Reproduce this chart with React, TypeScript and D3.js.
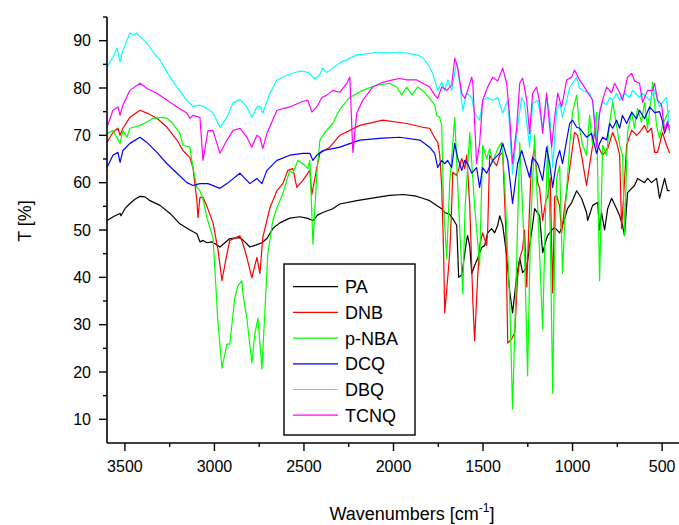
import React from "react";
import * as d3 from "d3";

type Pt = [number, number];

const seriesNames = ["PA", "DNB", "p-NBA", "DCQ", "DBQ", "TCNQ"];
const seriesColors = ["#000000", "#ff0000", "#00ff00", "#0000ff", "#00ffff", "#ff00ff"];

const xTicks = [3500, 3000, 2500, 2000, 1500, 1000, 500];
const xMinorTicks = [3250, 2750, 2250, 1750, 1250, 750];
const yTicks = [10, 20, 30, 40, 50, 60, 70, 80, 90];
const yMinorTicks = [15, 25, 35, 45, 55, 65, 75, 85, 95];

const PA: Pt[] = [[3600,52],[3555,53],[3527,53.5],[3522,53],[3500,54.5],[3472,55.6],[3444,56.5],[3416,57.1],[3388,57],[3360,56.2],[3304,55.2],[3248,53.5],[3193,51.3],[3137,50],[3098,49.2],[3081,47.5],[3064,47.8],[3042,47.3],[3014,47.5],[2969,46.4],[2914,48.2],[2858,48.4],[2830,47.5],[2802,46.4],[2769,46.8],[2735,47.3],[2707,48.2],[2674,50.3],[2635,51.5],[2579,52.5],[2523,52.8],[2484,52.5],[2450,52],[2423,53.2],[2395,53.7],[2339,54.5],[2300,55.5],[2205,56.2],[2093,56.9],[2021,57.3],[1948,57.5],[1881,57.2],[1837,56.7],[1798,56.2],[1759,55.2],[1731,54.5],[1714,53.7],[1686,53.3],[1669,52.4],[1647,51],[1636,40],[1619,40.5],[1602,45],[1591,48],[1586,48.8],[1574,46.5],[1563,40.8],[1547,42.5],[1530,44],[1508,46.3],[1491,46.7],[1474,49.4],[1452,50.3],[1435,49.4],[1418,51],[1407,53],[1390,51],[1368,44.6],[1351,37],[1335,32.5],[1312,40.3],[1295,44],[1279,41],[1256,42],[1240,46.7],[1223,51],[1212,54.5],[1184,53],[1167,45.2],[1145,48.2],[1139,48.8],[1117,50],[1100,50.5],[1072,49.4],[1044,52.4],[1028,54.5],[1005,55.8],[977,58.3],[950,56.7],[922,53.7],[916,52],[888,55.2],[860,55.8],[849,50],[838,53.7],[821,50],[804,54.5],[782,56.7],[754,54.5],[737,53],[721,51],[710,48.8],[693,57.9],[654,59.4],[637,60.9],[598,60],[581,60.9],[559,60],[531,60.9],[514,56.7],[486,60.9],[470,58.3],[458,58.3]];

const DNB: Pt[] = [[3600,68.5],[3567,70.6],[3539,71.5],[3527,70],[3511,71.5],[3472,73.8],[3416,75.3],[3377,74.7],[3321,73.6],[3265,71.7],[3209,69],[3176,66.8],[3137,65.3],[3120,63.2],[3098,56.2],[3092,52.6],[3081,56.9],[3064,56.9],[3042,55],[3008,51.5],[2981,46],[2958,39.3],[2930,45],[2914,47.8],[2858,48.8],[2841,47.1],[2819,44.2],[2791,39.9],[2763,44.2],[2746,40.8],[2730,48.4],[2690,54.7],[2651,58.3],[2618,59.8],[2590,62.6],[2562,63],[2540,59],[2506,60.5],[2467,62.6],[2456,57.5],[2428,63.2],[2411,66.2],[2356,67.5],[2300,70],[2188,72.1],[2060,73.2],[1926,72.5],[1837,71.7],[1798,71.5],[1770,69.5],[1753,68.5],[1742,66],[1731,59.4],[1720,45],[1714,32.5],[1697,40],[1686,45.2],[1675,55],[1669,62.2],[1647,61.5],[1619,65.1],[1602,63],[1591,65.8],[1574,55],[1557,35],[1547,26.6],[1530,40],[1519,46.7],[1502,49.4],[1480,46.7],[1474,50],[1463,65.8],[1446,64.7],[1424,63.6],[1407,65.8],[1390,66.4],[1373,50],[1362,26.1],[1340,27],[1323,28.3],[1307,40],[1295,44],[1279,46],[1268,50],[1256,38],[1240,55],[1229,64.3],[1212,67.2],[1195,60],[1184,58.8],[1167,52],[1150,56],[1139,57],[1125,61],[1111,36.7],[1100,57],[1089,57.3],[1072,55],[1061,49.4],[1044,55],[1016,63],[989,70.6],[972,70],[950,65.8],[922,59.4],[894,66.4],[877,70.6],[860,67.9],[832,65.8],[804,67.2],[776,70.6],[754,68.5],[737,65.8],[726,50.3],[698,67.9],[670,71.1],[643,70],[626,70.6],[598,72.1],[581,70.6],[559,71.5],[542,66.4],[525,66.4],[498,70.6],[475,67.9],[458,66.2]];

const PNBA: Pt[] = [[3600,70.4],[3567,71],[3527,68.3],[3511,71],[3488,69.6],[3472,71.5],[3416,72.1],[3377,72.8],[3343,73.6],[3288,73.8],[3265,73.6],[3232,72.5],[3193,70.4],[3176,67.9],[3137,67.5],[3120,63.2],[3098,59],[3081,58.3],[3064,56.5],[3042,52.6],[3008,48.4],[2997,41.4],[2981,30.8],[2958,20.8],[2942,23.8],[2930,25.9],[2914,25.9],[2902,30.2],[2886,35.7],[2869,38.2],[2847,39.3],[2841,36.5],[2819,31.4],[2813,29.3],[2791,21.9],[2774,28.1],[2757,31.4],[2735,20.6],[2718,32.9],[2702,45],[2674,52],[2651,54.7],[2618,57.7],[2579,62.6],[2562,62],[2534,64.7],[2506,64],[2478,63],[2467,64.7],[2450,47],[2428,62],[2411,69],[2384,70.6],[2339,72.5],[2300,75.5],[2244,78],[2172,79.5],[2093,80.6],[2021,81],[1982,80.2],[1954,78.5],[1926,80.2],[1898,78.5],[1865,80.2],[1826,79.1],[1798,77.8],[1770,76.4],[1759,74.2],[1742,73.8],[1731,72.1],[1720,55],[1703,43.9],[1686,60],[1658,73.8],[1642,60],[1613,36.5],[1600,55],[1574,70.6],[1547,55],[1519,42.5],[1502,67.9],[1480,65.1],[1463,67.2],[1446,64.3],[1418,67.2],[1396,68.5],[1379,60],[1351,35],[1335,12.2],[1318,35],[1295,68.5],[1268,45],[1251,19.2],[1235,50],[1212,70],[1195,55],[1167,29.1],[1150,55],[1139,67.9],[1125,50],[1111,15.5],[1100,45],[1089,60.9],[1072,63.6],[1056,40.8],[1040,55],[1016,67.9],[1000,74.9],[977,78.5],[961,71.5],[944,67.9],[922,65.8],[905,74.2],[888,67.9],[866,74.9],[849,39.3],[832,67.9],[810,65.8],[793,72.8],[776,77],[754,72.1],[737,67.9],[721,65.8],[710,48.8],[693,70.6],[670,74.9],[654,71.5],[637,75.7],[615,72.8],[598,77],[581,71.5],[559,78.5],[553,81.2],[531,72.1],[514,69.4],[498,72.1],[475,74.2],[458,75.3]];

const DCQ: Pt[] = [[3600,63.2],[3567,65.8],[3539,66.4],[3527,64.3],[3511,66.8],[3472,68.3],[3416,69.6],[3377,68.5],[3321,66.4],[3265,64],[3209,62],[3154,60],[3120,59.4],[3081,59.8],[3036,59.8],[2969,58.8],[2930,59.8],[2858,62],[2802,59.8],[2763,60.9],[2735,59.8],[2707,62.6],[2651,64.7],[2579,65.8],[2506,66.2],[2467,66.2],[2450,64.7],[2428,65.8],[2395,66.8],[2339,67.2],[2300,67.5],[2188,69],[2060,69.4],[1965,69.6],[1853,69],[1798,67.5],[1770,66.2],[1753,63.2],[1731,64.7],[1714,64],[1697,64.7],[1675,63.2],[1658,68.3],[1642,65.3],[1619,62.6],[1602,64.7],[1586,64],[1563,62],[1536,63.2],[1519,59],[1502,63.2],[1480,62],[1446,64.7],[1407,66.2],[1390,68.3],[1362,64.7],[1335,55.6],[1307,64],[1284,66.8],[1268,64.7],[1240,61.1],[1223,65.3],[1195,64],[1167,60.5],[1145,67.5],[1128,64],[1111,59],[1089,64.7],[1072,66.8],[1056,64],[1033,69],[1016,72.5],[1000,73.2],[977,71.7],[961,71.5],[922,69.6],[894,70.4],[866,66.2],[849,68.3],[832,69.6],[810,69],[793,72.5],[776,71.5],[754,73.2],[737,71.5],[721,74.2],[698,72.5],[670,74.9],[643,73.5],[626,75.3],[598,73.5],[570,76],[542,74.8],[514,75],[498,73],[486,70.4],[470,72.5],[458,71.7]];

const DBQ: Pt[] = [[3600,84.4],[3567,86.5],[3544,88.4],[3527,85.5],[3511,88],[3488,90.1],[3472,91.6],[3455,91.2],[3433,91.6],[3416,90.8],[3377,89.5],[3343,87.6],[3304,85.9],[3265,83.3],[3209,80.2],[3154,77.4],[3120,76.1],[3081,76.4],[3042,75.7],[3008,74.7],[2969,71.7],[2930,73.8],[2897,76.8],[2858,77.6],[2819,76],[2791,73.8],[2763,76],[2746,76.1],[2730,74.7],[2690,78.9],[2651,81.7],[2596,82.7],[2523,83.6],[2478,83.3],[2439,81.9],[2411,82.9],[2395,84.2],[2372,83.3],[2339,84.2],[2300,85.3],[2205,87],[2116,87.4],[2021,87.4],[1965,87.6],[1870,87],[1837,86.5],[1798,84.4],[1781,83.1],[1753,79.5],[1731,81.2],[1714,79.5],[1697,81.7],[1675,79.5],[1647,85.5],[1630,81],[1613,75.3],[1591,78.9],[1563,78],[1547,74.7],[1519,73.2],[1502,77.4],[1474,78],[1446,77.4],[1418,78],[1390,74.7],[1362,77.4],[1335,61.9],[1307,71.7],[1284,78],[1268,76.8],[1240,67.5],[1223,76.8],[1195,77.4],[1167,71.7],[1145,78],[1128,74.7],[1111,63.2],[1089,75.3],[1072,76.8],[1056,73.8],[1033,77.4],[1016,80.2],[1000,81],[977,82.3],[961,80],[944,79.5],[905,78.9],[888,77.4],[866,69],[849,75.3],[832,77],[810,76.5],[793,78],[776,77.4],[754,78.9],[737,77.4],[710,78.9],[682,78],[665,79.5],[626,78],[609,78.9],[570,77.4],[542,79.5],[514,76],[498,77],[475,78],[458,70.4]];

const TCNQ: Pt[] = [[3600,71.7],[3567,75.3],[3539,76],[3527,74.2],[3511,76.4],[3472,79.5],[3416,81],[3377,79.9],[3321,78.9],[3265,77.4],[3209,76],[3154,74.7],[3137,73.6],[3120,74.2],[3081,73.8],[3064,64.7],[3036,71],[3008,71],[2969,66.2],[2930,69],[2897,71],[2858,71.5],[2819,69.6],[2791,67.5],[2763,70],[2746,69.6],[2730,67.2],[2707,70.4],[2651,75.3],[2579,76],[2506,77.2],[2478,77.4],[2456,74.9],[2428,76],[2400,78],[2372,78.5],[2339,79.5],[2300,79.1],[2261,81],[2244,82.3],[2227,66.4],[2205,74.7],[2172,77.4],[2116,80.2],[2060,81.2],[2004,81.7],[1965,82],[1926,81.7],[1870,81.7],[1837,81],[1798,80.2],[1770,78.5],[1753,77.8],[1731,80.2],[1703,79.5],[1675,80.6],[1658,86.3],[1642,84.4],[1619,78.9],[1602,77.8],[1586,79.5],[1563,82.3],[1557,81],[1536,64],[1519,68.3],[1502,77.4],[1474,80.2],[1446,82.3],[1418,81.5],[1390,84.2],[1368,81],[1351,73.8],[1335,64],[1312,71.7],[1295,81],[1279,82.1],[1256,77.4],[1240,70.4],[1223,78.9],[1201,80.2],[1184,77],[1167,70.4],[1145,78.9],[1117,67.5],[1100,73.8],[1083,78.9],[1061,76],[1033,81.7],[1005,82.3],[989,83.8],[961,81.7],[922,79.5],[888,77.4],[866,67.5],[849,74.7],[832,77.5],[810,80.2],[782,79],[765,81],[737,79],[721,77.4],[693,82.3],[670,83.1],[654,81.5],[626,81],[609,77],[581,79.5],[553,79.5],[542,81],[525,77.4],[503,76.5],[486,71],[470,73],[458,71]];

const seriesData: Pt[][] = [PA, DNB, PNBA, DCQ, DBQ, TCNQ];

const W = 679;
const H = 525;
const left = 107;
const right = 680;
const top = 17;
const bottom = 443;
const FONT = "'Liberation Sans', Arial, Helvetica, sans-serif";

export default function App() {
  const x = d3.scaleLinear().domain([3600, 400]).range([left, right]);
  const y = d3.scaleLinear().domain([5, 95]).range([bottom, top]);
  const line = d3
    .line<Pt>()
    .x((d) => x(d[0]))
    .y((d) => y(d[1]));

  const legendX = 284;
  const legendY = 264;
  const legendW = 131;
  const legendH = 171;
  const rowStart = 286.7;
  const rowGap = 25.7;

  return (
    <svg
      width={W}
      height={H}
      style={{ position: "absolute", left: 0, top: 0, background: "#fff" }}
      fontFamily={FONT}
    >
      <rect x={0} y={0} width={W} height={H} fill="#fff" />
      <defs>
        <clipPath id="plotclip">
          <rect x={left} y={top} width={right - left} height={bottom - top} />
        </clipPath>
      </defs>
      <g clipPath="url(#plotclip)">
        {seriesData.map((s, i) => (
          <path
            key={seriesNames[i]}
            d={line(s) || ""}
            fill="none"
            stroke={seriesColors[i]}
            strokeWidth={1.2}
            strokeLinejoin="round"
          />
        ))}
      </g>
      {/* axes */}
      <line x1={left} x2={left} y1={top} y2={bottom} stroke="#000" strokeWidth={1.6} />
      <line x1={left} x2={W} y1={bottom} y2={bottom} stroke="#000" strokeWidth={1.6} />
      {yTicks.map((t) => (
        <g key={"y" + t}>
          <line x1={left - 8} x2={left} y1={y(t)} y2={y(t)} stroke="#000" strokeWidth={1.4} />
          <text x={91} y={y(t) + 5.6} fontSize={16} textAnchor="end" fill="#000">
            {t}
          </text>
        </g>
      ))}
      {yMinorTicks.map((t) => (
        <line key={"ym" + t} x1={left - 4} x2={left} y1={y(t)} y2={y(t)} stroke="#000" strokeWidth={1.4} />
      ))}
      {xTicks.map((t) => (
        <g key={"x" + t}>
          <line x1={x(t)} x2={x(t)} y1={bottom} y2={bottom + 8} stroke="#000" strokeWidth={1.4} />
          <text x={x(t)} y={472} fontSize={16} textAnchor="middle" fill="#000">
            {t}
          </text>
        </g>
      ))}
      {xMinorTicks.map((t) => (
        <line key={"xm" + t} x1={x(t)} x2={x(t)} y1={bottom} y2={bottom + 4} stroke="#000" strokeWidth={1.4} />
      ))}
      {/* axis titles */}
      <text
        transform={`translate(31, 221) rotate(-90)`}
        fontSize={18}
        textAnchor="middle"
        fill="#000"
      >
        T [%]
      </text>
      <text x={412} y={520} fontSize={18} textAnchor="middle" fill="#000">
        Wavenumbers [cm
        <tspan fontSize={12} dy={-8}>-1</tspan>
        <tspan dy={8}>]</tspan>
      </text>
      {/* legend */}
      <rect x={legendX} y={legendY} width={legendW} height={legendH} fill="#fff" stroke="#000" strokeWidth={1.4} />
      {seriesNames.map((n, i) => {
        const ry = rowStart + i * rowGap;
        return (
          <g key={"lg" + n}>
            <line x1={293} x2={338} y1={ry} y2={ry} stroke={seriesColors[i]} strokeWidth={1.2} />
            <text x={345} y={ry + 6.5} fontSize={18} fill="#000">
              {n}
            </text>
          </g>
        );
      })}
    </svg>
  );
}
